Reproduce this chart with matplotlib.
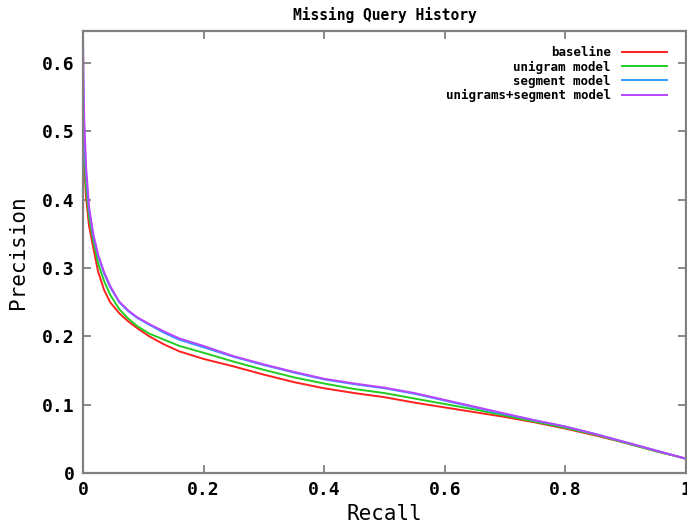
import matplotlib.pyplot as plt

# recall / precision points
recall = [0, 0.002, 0.005, 0.01, 0.017, 0.025, 0.035, 0.045, 0.06, 0.075, 0.09,
          0.11, 0.135, 0.16, 0.2, 0.25, 0.3, 0.35, 0.4, 0.45, 0.5, 0.55, 0.6,
          0.65, 0.7, 0.75, 0.8, 0.85, 0.9, 0.95, 1.0]
baseline = [0.50, 0.45, 0.405, 0.362, 0.330, 0.295, 0.268, 0.250, 0.234, 0.222, 0.212,
            0.200, 0.188, 0.178, 0.167, 0.156, 0.144, 0.133, 0.124, 0.117, 0.111, 0.103, 0.096,
            0.089, 0.082, 0.074, 0.065, 0.055, 0.044, 0.032, 0.021]
unigram = [0.54, 0.48, 0.42, 0.375, 0.34, 0.307, 0.281, 0.261, 0.240, 0.226, 0.215,
           0.204, 0.195, 0.186, 0.176, 0.163, 0.151, 0.140, 0.131, 0.123, 0.117, 0.109, 0.101,
           0.093, 0.084, 0.075, 0.066, 0.056, 0.044, 0.032, 0.021]
segment = [0.56, 0.50, 0.44, 0.385, 0.347, 0.318, 0.292, 0.272, 0.250, 0.237, 0.227,
           0.217, 0.205, 0.195, 0.184, 0.170, 0.158, 0.147, 0.137, 0.130, 0.124, 0.116, 0.106,
           0.096, 0.086, 0.077, 0.068, 0.057, 0.045, 0.033, 0.021]
combined = [0.637, 0.52, 0.45, 0.39, 0.35, 0.32, 0.294, 0.274, 0.251, 0.238, 0.228,
            0.218, 0.207, 0.197, 0.186, 0.171, 0.159, 0.148, 0.138, 0.131, 0.125, 0.117, 0.107,
            0.097, 0.087, 0.077, 0.068, 0.057, 0.045, 0.033, 0.021]

series = [
    ('baseline', baseline, '#ff2020'),
    ('unigram model', unigram, '#22cc22'),
    ('segment model', segment, '#3399ff'),
    ('unigrams+segment model', combined, '#bb44ff'),
]

plt.rcParams['font.family'] = 'DejaVu Sans Mono'

fig = plt.figure(figsize=(6.87, 5.31), dpi=100)
ax = fig.add_axes([0.1208, 0.1092, 0.8777, 0.8324])

for name, vals, col in series:
    ax.plot(recall, vals, color=col, lw=1.4, label=name)

ax.set_xlim(0, 1)
ax.set_ylim(0, 0.647)
ax.set_xticks([0, 0.2, 0.4, 0.6, 0.8, 1])
ax.set_xticklabels(['0', '0.2', '0.4', '0.6', '0.8', '1'])
ax.set_yticks([0, 0.1, 0.2, 0.3, 0.4, 0.5, 0.6])
ax.set_yticklabels(['0', '0.1', '0.2', '0.3', '0.4', '0.5', '0.6'])

for s in ax.spines.values():
    s.set_color('#808080')
    s.set_linewidth(1.6)
ax.tick_params(direction='in', top=True, right=True, length=6, width=1.3,
               color='#808080', labelsize=13, pad=6)
for lab in ax.get_xticklabels() + ax.get_yticklabels():
    lab.set_fontweight('bold')

ax.set_title('Missing Query History', fontsize=10.5, fontweight='bold', pad=8)
ax.set_xlabel('Recall', fontsize=15, labelpad=3)
ax.set_ylabel('Precision', fontsize=15, labelpad=10)

leg = ax.legend(loc='upper right', bbox_to_anchor=(0.977, 0.977), frameon=False,
                markerfirst=False, fontsize=9, handlelength=3.6,
                handletextpad=0.9, labelspacing=0.1, borderaxespad=0)
for t in leg.get_texts():
    t.set_fontweight('bold')

fig.savefig('out.png', dpi=100)
